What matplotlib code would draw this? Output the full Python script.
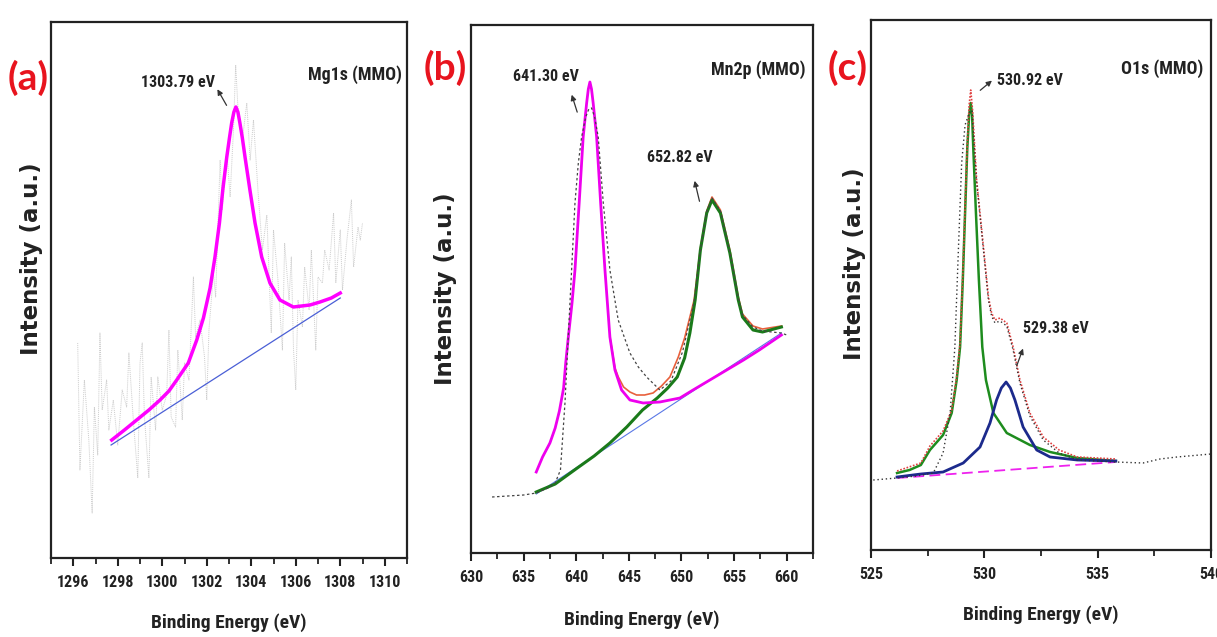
import numpy as np
import matplotlib.pyplot as plt
from matplotlib.ticker import MultipleLocator

NARROW = ['Liberation Sans Narrow', 'Roboto Condensed', 'DejaVu Sans Condensed', 'Liberation Sans']

# ---------------- (a) Mg1s ----------------
mg_raw_x = [1296.2, 1296.3, 1296.5, 1296.7, 1296.85, 1296.95, 1297.1, 1297.2, 1297.3, 1297.5,
            1297.6, 1297.8, 1298.0, 1298.2, 1298.4, 1298.5, 1298.7, 1298.9, 1299.0, 1299.1,
            1299.2, 1299.4, 1299.5, 1299.7, 1299.8, 1300.0, 1300.2, 1300.3, 1300.4, 1300.6,
            1300.7, 1300.9, 1301.0, 1301.2, 1301.4, 1301.5, 1301.7, 1301.9, 1302.0, 1302.1,
            1302.3, 1302.4, 1302.6, 1302.7, 1302.9, 1303.05, 1303.2, 1303.3, 1303.4, 1303.6,
            1303.8, 1303.95, 1304.1, 1304.3, 1304.5, 1304.7, 1304.9, 1305.0, 1305.2, 1305.4,
            1305.5, 1305.7, 1305.8, 1305.9, 1306.0, 1306.1, 1306.3, 1306.4, 1306.6, 1306.7,
            1306.9, 1307.0, 1307.2, 1307.3, 1307.5, 1307.7, 1307.8, 1308.0, 1308.1, 1308.3,
            1308.5, 1308.6, 1308.8, 1308.9, 1309.0]
mg_raw_y = [215, 88, 178, 118, 45, 151, 103, 225, 148, 178,
            128, 158, 113, 168, 151, 205, 138, 80, 195, 215,
            141, 80, 181, 128, 181, 148, 163, 228, 141, 131,
            208, 138, 195, 178, 281, 221, 238, 201, 158, 228,
            285, 261, 398, 348, 408, 361, 428, 493, 451, 418,
            455, 398, 438, 368, 308, 343, 225, 328, 278, 208,
            315, 258, 301, 208, 168, 258, 231, 291, 248, 308,
            208, 281, 275, 308, 288, 345, 275, 328, 268, 318,
            358, 291, 331, 318, 335]
mg_fit_x = [1297.73, 1298.3, 1298.85, 1299.4, 1299.9, 1300.3, 1300.65, 1301.17, 1301.55, 1301.85,
            1302.15, 1302.37, 1302.57, 1302.72, 1302.9, 1303.02, 1303.12, 1303.22, 1303.31, 1303.4,
            1303.49, 1303.6, 1303.72, 1303.94, 1304.17, 1304.47, 1304.84, 1305.29, 1305.89, 1306.64,
            1307.09, 1307.6, 1308.0]
mg_fit_y = [118, 128, 138, 148, 158, 167, 178, 195, 218, 240,
            270, 301, 335, 368, 401, 420, 435, 446, 451, 446,
            435, 420, 401, 368, 335, 301, 275, 258, 251, 253,
            256, 260, 265]
mg_base_x = [1297.7, 1308.0]
mg_base_y = [113, 260]

# ---------------- (b) Mn2p ----------------
mn_raw_x = [632.0, 633.5, 635.0, 636.2, 637.3, 638.0, 638.5, 638.93, 639.24, 639.56,
            639.88, 640.2, 640.51, 640.9, 641.2, 641.46, 641.75, 642.09, 642.57, 643.2,
            643.99, 645.1, 645.9, 646.69, 647.95, 649.0, 650.1, 651.2, 651.8, 652.4,
            652.9, 653.7, 654.6, 655.4, 655.8, 656.8, 657.7, 659.5, 660.0]
mn_raw_y = [56, 57, 58, 60, 65, 70, 83, 150, 216, 283,
            350, 390, 416, 436, 444, 445, 436, 416, 350, 283,
            233, 200, 186, 176, 163, 172, 201, 251, 303, 341,
            355, 342, 301, 255, 238, 226, 222, 220, 218]
mn_p1_x = [636.2, 636.8, 637.5, 638.0, 638.4, 638.8, 639.0, 639.25, 639.6, 639.88,
           640.28, 640.66, 640.99, 641.15, 641.3, 641.45, 641.61, 641.94, 642.32, 642.73,
           643.2, 643.68, 644.31, 645.1, 646.36, 647.95, 649.85, 651.1, 652.7, 654.3,
           655.9, 657.4, 659.5]
mn_p1_y = [81, 96, 110, 125, 142, 165, 190, 216, 250, 283,
           350, 416, 450, 464, 471, 464, 450, 416, 350, 283,
           216, 183, 163, 153, 150, 151, 155, 163, 173, 183,
           193, 203, 218]
mn_p2_x = [636.2, 638.0, 640.1, 641.7, 643.2, 644.8, 646.3, 647.7, 648.7, 649.6,
           650.3, 650.8, 651.3, 651.8, 652.4, 652.9, 653.7, 654.6, 655.4, 655.8,
           656.8, 657.7, 659.5]
mn_p2_y = [61, 69, 85, 97, 110, 126, 143, 155, 165, 176,
           195, 220, 253, 303, 340, 353, 340, 300, 253, 236,
           223, 221, 226]
mn_sum_x = [643.2, 643.68, 644.0, 644.5, 645.1, 645.73, 646.5, 647.3, 648.1, 648.9,
            649.7, 650.3, 650.8, 651.2, 651.8, 652.4, 652.9, 653.7, 654.6, 655.4,
            655.8, 656.8, 657.7, 659.5]
mn_sum_y = [216, 185, 176, 166, 161, 158, 158, 160, 167, 176,
            196, 215, 236, 253, 305, 342, 356, 343, 303, 256,
            239, 227, 224, 227]
mn_base_x = [636.2, 659.5]
mn_base_y = [59, 220]

# ---------------- (c) O1s ----------------
o_raw_x = [525.1, 526.15, 527.0, 527.75, 528.18, 528.49, 528.7, 528.86, 529.0, 529.15,
           529.33, 529.45, 529.66, 529.96, 530.18, 530.32, 530.47, 530.69, 530.99, 531.27,
           531.57, 532.01, 532.6, 533.3, 534.1, 535.8, 537.0, 537.75, 538.5, 540.0]
o_raw_y = [70, 72, 74, 77, 97, 137, 203, 303, 387, 425,
           437, 440, 368, 300, 250, 234, 227, 229, 224, 200,
           167, 134, 110, 97, 90, 88, 87, 91, 93, 96]
o_p1_x = [526.15, 526.7, 527.2, 527.6, 528.18, 528.56, 528.78, 528.93, 529.05, 529.15,
          529.25, 529.33, 529.4, 529.46, 529.51, 529.63, 529.76, 529.91, 530.07, 530.4,
          530.99, 532.01, 532.9, 534.1, 535.8]
o_p1_y = [77, 80, 85, 100, 115, 137, 170, 203, 270, 337,
          403, 435, 447, 435, 403, 337, 270, 203, 170, 137,
          117, 105, 98, 92, 89]
o_p2_x = [526.15, 527.2, 528.18, 529.07, 529.81, 530.25, 530.54, 530.75, 530.96, 531.15,
          531.35, 531.71, 532.31, 532.9, 534.1, 535.8]
o_p2_y = [73, 76, 78, 87, 103, 127, 150, 162, 168, 162,
          150, 123, 100, 93, 90, 89]
o_sum_x = [526.15, 527.2, 527.6, 528.18, 528.56, 528.78, 528.93, 529.05, 529.15, 529.25,
           529.33, 529.4, 529.48, 529.66, 529.96, 530.18, 530.32, 530.47, 530.69, 530.99,
           531.27, 531.57, 532.01, 532.6, 533.3, 534.1, 535.8]
o_sum_y = [79, 87, 104, 119, 140, 173, 207, 275, 342, 407,
           445, 460, 440, 370, 303, 253, 237, 230, 232, 227,
           203, 170, 137, 113, 100, 93, 91]
o_base_x = [526.15, 535.8]
o_base_y = [72, 88]


fig = plt.figure(figsize=(12.17, 6.37), dpi=100)

axa = fig.add_axes([51/1217, 79/637, 356/1217, 536/637])
axb = fig.add_axes([471/1217, 84/637, 342/1217, 528/637])
axc = fig.add_axes([871/1217, 87/637, 340/1217, 530/637])

# (a)
axa.plot(mg_raw_x, mg_raw_y, color='#cccccc', lw=0.7, linestyle=(0, (1, 1)))
axa.plot(mg_base_x, mg_base_y, color='#4a5fd6', lw=0.9)
axa.plot(mg_fit_x, mg_fit_y, color='#ff00ff', lw=2.5)
axa.set_xlim(1295, 1311)
axa.set_ylim(0, 536)
axa.xaxis.set_major_locator(MultipleLocator(2))
axa.xaxis.set_minor_locator(MultipleLocator(1))

# (b)
axb.plot(mn_base_x, mn_base_y, color='#5a78e6', lw=0.8)
axb.plot(mn_sum_x, mn_sum_y, color='#e8603c', lw=1.2)
axb.plot(mn_p2_x, mn_p2_y, color='#1a7a1a', lw=2.2)
axb.plot(mn_p1_x, mn_p1_y, color='#ee00ee', lw=2.0)
axb.plot(mn_raw_x, mn_raw_y, color='#444444', lw=0.9, linestyle=(0, (2, 2)))
axb.set_xlim(630, 662.5)
axb.set_ylim(0, 528)
axb.xaxis.set_major_locator(MultipleLocator(5))
axb.xaxis.set_minor_locator(MultipleLocator(2.5))

# (c)
axc.plot(o_base_x, o_base_y, color='#ee22ee', lw=1.3, linestyle=(0, (6, 3)))
axc.plot(o_p1_x, o_p1_y, color='#1e8c1e', lw=1.8)
axc.plot(o_p2_x, o_p2_y, color='#1c2a8c', lw=2.0)
axc.plot(o_sum_x, o_sum_y, color='#e04040', lw=1.2, linestyle=(0, (1, 1)))
axc.plot(o_raw_x, o_raw_y, color='#333333', lw=1.0, linestyle=(0, (1, 2)))
axc.set_xlim(525, 540)
axc.set_ylim(0, 530)
axc.xaxis.set_major_locator(MultipleLocator(5))
axc.xaxis.set_minor_locator(MultipleLocator(2.5))

ylab_pos = {axa: (-0.022, 0.559), axb: (-0.04, 0.5), axc: (-0.016, 0.541)}
xlab_y = {axa: -0.103, axb: -0.108, axc: -0.104}
for ax in (axa, axb, axc):
    for s in ax.spines.values():
        s.set_linewidth(1.6)
        s.set_color('#222222')
    ax.set_yticks([])
    ax.tick_params(axis='x', which='major', direction='out', length=6, width=1.5,
                   labelsize=11.5, pad=6, colors='#222222')
    ax.tick_params(axis='x', which='minor', direction='out', length=4, width=1.3,
                   colors='#222222')
    for lab in ax.get_xticklabels():
        lab.set_family(NARROW)
        lab.set_fontweight('bold')
    ax.set_xlabel('Binding Energy (eV)', family=NARROW, fontweight='bold', fontsize=14,
                  color='#222222')
    ax.xaxis.set_label_coords(0.5, xlab_y[ax])
    ax.set_ylabel('Intensity (a.u.)', family='DejaVu Sans', fontweight='heavy',
                  fontsize=16.5, color='#222222')
    ax.yaxis.set_label_coords(*ylab_pos[ax])

txt = dict(family=NARROW, fontweight='bold', color='#222222')
arr = dict(arrowstyle='-|>', color='#333333', lw=0.9, mutation_scale=8)

axa.text(0.357, 0.888, '1303.79 eV', transform=axa.transAxes, ha='center', va='center',
         fontsize=11.5, **txt)
axa.annotate('', xy=(0.4635, 0.879), xytext=(0.497, 0.84), xycoords='axes fraction',
             arrowprops=arr)
axa.text(0.986, 0.901, 'Mg1s (MMO)', transform=axa.transAxes, ha='right', va='center',
         fontsize=13, **txt)

axb.text(0.219, 0.903, '641.30 eV', transform=axb.transAxes, ha='center', va='center',
         fontsize=11.5, **txt)
axb.annotate('', xy=(0.292, 0.873), xytext=(0.313, 0.83), xycoords='axes fraction',
             arrowprops=arr)
axb.text(0.611, 0.75, '652.82 eV', transform=axb.transAxes, ha='center', va='center',
         fontsize=11.5, **txt)
axb.annotate('', xy=(0.652, 0.71), xytext=(0.67, 0.661), xycoords='axes fraction',
             arrowprops=arr)
axb.text(0.977, 0.915, 'Mn2p (MMO)', transform=axb.transAxes, ha='right', va='center',
         fontsize=13, **txt)

axc.text(0.468, 0.885, '530.92 eV', transform=axc.transAxes, ha='center', va='center',
         fontsize=11.5, **txt)
axc.annotate('', xy=(0.362, 0.889), xytext=(0.315, 0.864), xycoords='axes fraction',
             arrowprops=arr)
axc.text(0.544, 0.417, '529.38 eV', transform=axc.transAxes, ha='center', va='center',
         fontsize=11.5, **txt)
axc.annotate('', xy=(0.45, 0.385), xytext=(0.426, 0.343), xycoords='axes fraction',
             arrowprops=arr)
axc.text(0.976, 0.909, 'O1s (MMO)', transform=axc.transAxes, ha='right', va='center',
         fontsize=13, **txt)

panel = dict(family=['Lato', 'DejaVu Sans'], fontweight='bold', fontsize=28,
             color='#e8141e', ha='center', va='center')
fig.text(28/1217, 1 - 78/637, '(a)', **panel)
fig.text(445/1217, 1 - 68/637, '(b)', **panel)
fig.text(848/1217, 1 - 68/637, '(c)', **panel)

fig.savefig('out.png', dpi=100)
